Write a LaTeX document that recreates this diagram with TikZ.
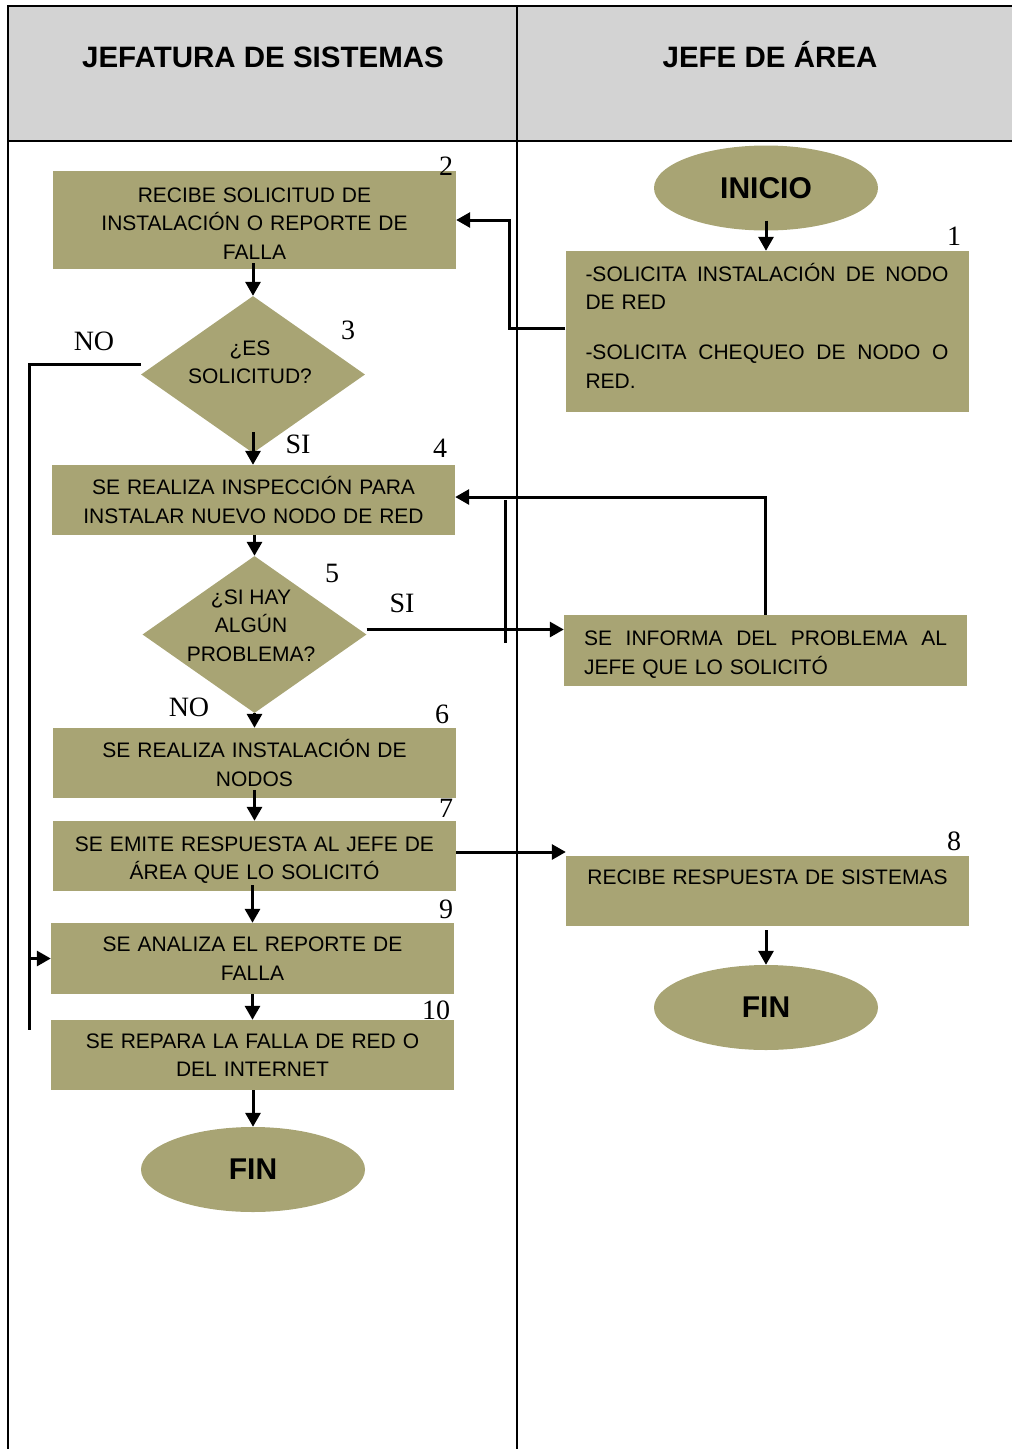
\documentclass[tikz,border=0pt]{standalone}
\usepackage{fontspec}
\setmainfont{Liberation Sans}
\newfontfamily\numfont{Liberation Serif}
\usetikzlibrary{shapes.geometric,arrows.meta}
\definecolor{olivebox}{RGB}{168,164,116}
\definecolor{headgray}{RGB}{211,211,211}
\begin{document}
\begin{tikzpicture}[x=1pt,y=-1pt,
  box/.style={rectangle, fill=olivebox, inner xsep=20pt, inner ysep=2pt, align=center,
              minimum width=403pt, text width=363pt, font=\fontsize{21}{28.5}\selectfont},
  jbox/.style={box, align=left},
  term/.style={ellipse, fill=olivebox, minimum width=224pt, minimum height=85pt, inner sep=0pt,
               font=\bfseries\fontsize{30}{30}\selectfont},
  decision/.style={diamond, fill=olivebox, minimum width=224pt, minimum height=157pt, inner sep=0pt},
  dtext/.style={align=center, inner sep=0pt, font=\fontsize{21}{28.5}\selectfont},
  num/.style={inner sep=0pt, font=\numfont\fontsize{28}{28}\selectfont},
  head/.style={inner sep=0pt, anchor=base, font=\bfseries\fontsize{29.5}{34}\selectfont},
  conn/.style={line width=3pt, -{Triangle[length=14pt,width=15pt]}},
  plain/.style={line width=3pt},
  grid/.style={line width=2pt}
]
\useasboundingbox (0,0) rectangle (1012,1449);
% table
\fill[headgray] (8,6) rectangle (1012,141);
\draw[grid] (8,1449) -- (8,6) -- (1012,6);
\draw[grid] (8,141) -- (1012,141);
\draw[grid] (517,6) -- (517,1449);
\node[head] (h1) at (263,67.5) {JEFATURA DE SISTEMAS};
\node[head] (h2) at (770,67.5) {JEFE DE ÁREA};

% nodes
\node[term] (inicio) at (766,188) {INICIO};
\node[jbox, minimum height=161pt] (b1) at (767,331.5) {\makebox[363pt][l]{-SOLICITA\hfill INSTALACIÓN\hfill DE\hfill NODO}\\DE RED\\[21.5pt]\makebox[363pt][l]{-SOLICITA\hfill CHEQUEO\hfill DE\hfill NODO\hfill O}\\RED.\\[-16.5pt]\mbox{}};
\node[box, minimum height=98pt] (b2) at (254.5,220) {\rule{0pt}{21pt}RECIBE SOLICITUD DE\\INSTALACIÓN O REPORTE DE\\FALLA};
\node[decision] (d3) at (253,374.5) {};
\node[dtext] (t3) at (250,362.5) {¿ES\\SOLICITUD?};
\node[box, minimum height=70pt] (b4) at (253.5,500) {SE REALIZA INSPECCIÓN PARA\\INSTALAR NUEVO NODO DE RED};
\node[decision] (d5) at (254.5,634.5) {};
\node[dtext] (t5) at (251,625.5) {¿SI HAY\\ALGÚN\\PROBLEMA?};
\node[jbox, minimum height=71pt] (binf) at (765.5,650.5) {\makebox[363pt][l]{\rule{0pt}{23pt}SE\hfill INFORMA\hfill DEL\hfill PROBLEMA\hfill AL}\\JEFE QUE LO SOLICITÓ};
\node[box, minimum height=70pt] (b6) at (254.5,763) {SE REALIZA INSTALACIÓN DE\\NODOS};
\node[box, minimum height=70pt] (b7) at (254.5,856) {\rule{0pt}{23pt}SE EMITE RESPUESTA AL JEFE DE\\ÁREA QUE LO SOLICITÓ};
\node[box, minimum height=70pt] (b8) at (767.5,891) {RECIBE RESPUESTA DE SISTEMAS\\\mbox{}};
\node[term] (finR) at (766,1007.5) {FIN};
\node[box, minimum height=71pt] (b9) at (252.5,958.5) {SE ANALIZA EL REPORTE DE\\FALLA};
\node[box, minimum height=70pt] (b10) at (252.5,1055) {SE REPARA LA FALLA DE RED O\\DEL INTERNET};
\node[term] (finL) at (253,1169.5) {FIN};

% numbers and labels
\node[num] (n1) at (954,236) {1};
\node[num] (n2) at (446,166) {2};
\node[num] (n3) at (348,330) {3};
\node[num] (n4) at (440,448) {4};
\node[num] (n5) at (332,573) {5};
\node[num] (n6) at (442,714) {6};
\node[num] (n7) at (446,808) {7};
\node[num] (n8) at (954,841) {8};
\node[num] (n9) at (446,909) {9};
\node[num] (n10) at (436,1010) {10};
\node[num] (lno1) at (94,341) {NO};
\node[num] (lsi1) at (298,444) {SI};
\node[num] (lsi2) at (402,603) {SI};
\node[num] (lno2) at (189,707) {NO};

% helper coordinates
\coordinate (j1) at (509,0);
\coordinate (nobot) at (29,1030);
\coordinate (s1) at (505,500);
\coordinate (s2) at (505,643);
\coordinate (a7) at ([yshift=4pt]b7.east);

% connectors
\draw[conn] (inicio.south) ++(0,-10) -- (inicio.south |- b1.north);
\draw[conn] ([yshift=3pt]b1.west) -- ([yshift=3pt]b1.west -| j1) |- (b2.east);
\draw[conn] (d3.north |- b2.south) ++(0,-6) -- (d3.north);
\draw[conn] (d3.south) ++(0,-21) -- (d3.south |- b4.north);
\draw[plain] ([yshift=10pt]d3.west) -| (nobot);
\draw[conn] (b9.west -| nobot) -- (b9.west);
\draw[conn] (d5.north |- b4.south) -- (d5.north);
\draw[conn] ([yshift=5pt]d5.east) -- ([yshift=5pt]d5.east -| binf.west);
\draw[conn] (binf.north) |- ([yshift=3pt]b4.east);
\draw[plain] (s1) -- (s2);
\draw[conn] (d5.south) -- (d5.south |- b6.north);
\draw[conn] (b6.south) ++(0,-8) -- (b7.north);
\draw[conn] (a7) -- (a7 -| b8.west);
\draw[conn] (b9.north |- b7.south) ++(0,-6) -- (b9.north);
\draw[conn] (b9.south) -- (b10.north);
\draw[conn] (finL.north |- b10.south) -- (finL.north);
\draw[conn] (finR.north |- b8.south) ++(0,4) -- (finR.north);
\end{tikzpicture}
\end{document}
